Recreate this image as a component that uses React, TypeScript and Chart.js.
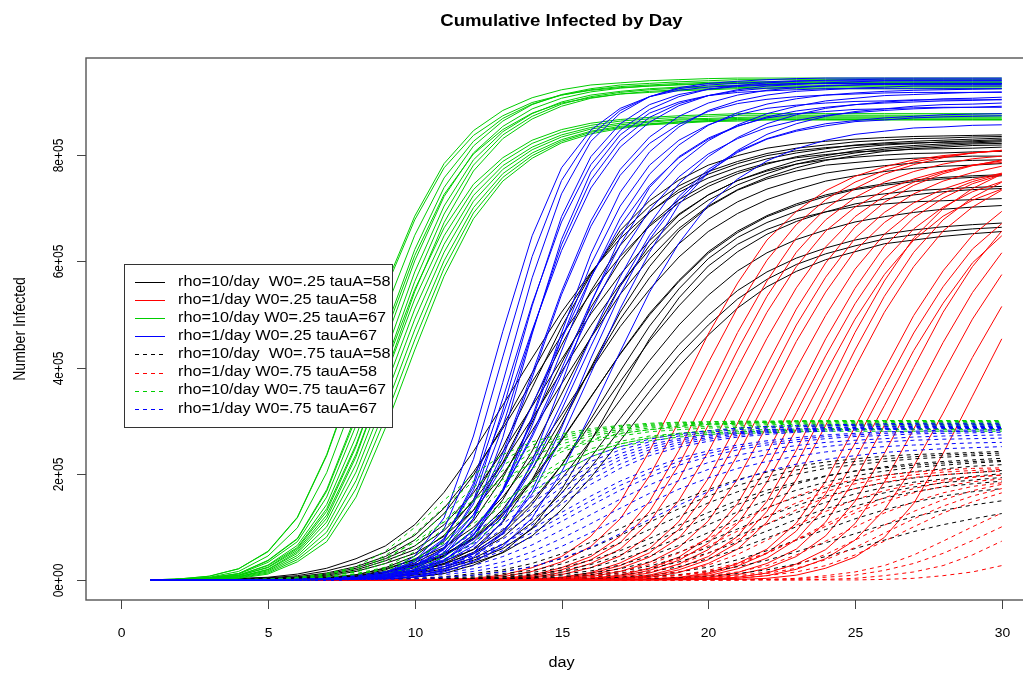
import React, { useEffect, useRef } from "react";
import { Chart, registerables } from "chart.js";

Chart.register(...registerables);

// ---------- data (values in thousands of infected) ----------
const days = [1, 2, 3, 4, 5, 6, 7, 8, 9, 10, 11, 12, 13, 14, 15, 16, 17, 18, 19, 20, 21, 22, 23, 24, 25, 26, 27, 28, 29, 30];
const xTicks = [0, 5, 10, 15, 20, 25, 30];
const xTickLabels = ["0", "5", "10", "15", "20", "25", "30"];
const yTicks = [0, 200, 400, 600, 800];
const yTickLabels = ["0e+00", "2e+05", "4e+05", "6e+05", "8e+05"];
const legendLabels = [
  "rho=10/day  W0=.25 tauA=58",
  "rho=1/day W0=.25 tauA=58",
  "rho=10/day W0=.25 tauA=67",
  "rho=1/day W0=.25 tauA=67",
  "rho=10/day  W0=.75 tauA=58",
  "rho=1/day W0=.75 tauA=58",
  "rho=10/day W0=.75 tauA=67",
  "rho=1/day W0=.75 tauA=67",
];

// rho=10/day W0=.25 tauA=58 (black, solid)
const blackSolid = [
  [0, 1, 1, 3, 5, 11, 22, 40, 64, 104, 165, 242, 329, 418, 504, 579, 643, 693, 730, 757, 777, 793, 804, 812, 819, 823, 826, 828, 830, 832],
  [0, 1, 1, 2, 3, 6, 13, 25, 44, 75, 125, 197, 290, 390, 490, 577, 651, 704, 742, 769, 788, 803, 813, 819, 825, 828, 831, 832, 834, 835],
  [0, 1, 1, 2, 4, 8, 17, 31, 52, 84, 135, 203, 285, 373, 460, 540, 609, 666, 710, 741, 765, 783, 797, 806, 814, 819, 822, 825, 827, 829],
  [0, 0, 0, 0, 1, 1, 3, 9, 23, 45, 84, 151, 250, 362, 476, 575, 658, 714, 753, 781, 799, 813, 821, 826, 830, 833, 835, 836, 837, 838],
  [0, 0, 0, 0, 1, 1, 3, 7, 19, 39, 72, 131, 221, 330, 442, 544, 630, 692, 735, 764, 784, 799, 808, 814, 818, 821, 823, 824, 825, 827],
  [0, 0, 1, 1, 2, 5, 11, 22, 40, 64, 104, 164, 241, 327, 415, 501, 575, 639, 689, 725, 752, 772, 789, 799, 808, 814, 818, 821, 823, 825],
  [0, 0, 1, 1, 2, 4, 9, 19, 36, 57, 93, 148, 220, 304, 392, 479, 557, 622, 676, 715, 744, 765, 783, 795, 804, 811, 815, 818, 821, 822],
  [0, 0, 0, 0, 0, 1, 2, 5, 14, 32, 59, 111, 192, 297, 408, 513, 601, 669, 716, 747, 769, 785, 795, 801, 806, 808, 811, 812, 813, 815],
  [0, 0, 1, 1, 2, 3, 7, 16, 31, 50, 82, 131, 198, 281, 369, 456, 538, 605, 662, 704, 735, 758, 776, 790, 799, 807, 812, 815, 818, 819],
  [0, 0, 0, 0, 0, 1, 2, 4, 10, 23, 45, 85, 151, 243, 350, 457, 553, 630, 687, 725, 752, 770, 783, 791, 796, 800, 803, 804, 806, 807],
  [0, 0, 0, 0, 0, 0, 1, 2, 5, 13, 31, 58, 109, 189, 291, 400, 504, 590, 657, 702, 734, 755, 770, 781, 786, 791, 794, 796, 798, 798],
  [0, 0, 0, 1, 1, 1, 3, 6, 13, 26, 46, 79, 133, 209, 301, 398, 491, 569, 633, 679, 712, 736, 753, 766, 774, 780, 785, 788, 790, 791],
  [0, 0, 0, 1, 1, 2, 5, 10, 21, 38, 61, 99, 156, 229, 311, 395, 477, 547, 608, 656, 690, 716, 735, 751, 761, 769, 775, 779, 781, 784],
  [0, 0, 0, 1, 1, 2, 4, 7, 16, 29, 49, 78, 125, 189, 264, 345, 425, 499, 562, 615, 654, 684, 705, 722, 735, 743, 750, 755, 758, 761],
  [0, 0, 0, 1, 1, 2, 3, 7, 15, 28, 46, 76, 122, 185, 262, 344, 426, 502, 564, 618, 657, 686, 708, 725, 737, 746, 753, 758, 761, 763],
  [0, 0, 0, 1, 1, 1, 2, 4, 8, 17, 29, 52, 87, 142, 216, 303, 393, 478, 548, 605, 645, 673, 694, 709, 720, 727, 733, 736, 739, 741],
  [0, 0, 0, 0, 1, 1, 2, 4, 10, 19, 36, 57, 93, 148, 216, 294, 373, 450, 516, 574, 618, 651, 675, 693, 708, 717, 725, 731, 735, 737],
  [0, 0, 0, 0, 0, 0, 0, 1, 1, 5, 12, 28, 52, 98, 170, 262, 360, 454, 531, 591, 632, 660, 680, 693, 703, 708, 712, 714, 716, 718],
  [0, 0, 0, 0, 1, 1, 2, 4, 8, 16, 31, 49, 80, 128, 190, 263, 339, 413, 480, 536, 582, 616, 641, 659, 674, 684, 692, 698, 702, 705],
  [0, 0, 0, 0, 1, 1, 1, 3, 6, 13, 25, 41, 67, 108, 163, 231, 304, 376, 443, 498, 545, 580, 606, 625, 640, 651, 659, 665, 669, 672],
  [0, 0, 0, 0, 1, 1, 1, 3, 5, 11, 21, 37, 59, 96, 148, 212, 283, 355, 423, 480, 529, 566, 594, 614, 629, 642, 650, 656, 661, 664],
  [0, 0, 0, 0, 0, 1, 1, 2, 4, 9, 17, 32, 51, 83, 132, 193, 262, 333, 402, 461, 512, 552, 581, 603, 618, 633, 640, 647, 652, 656],
];

// rho=1/day W0=.25 tauA=58 (red, solid)
const redSolid = [
  [0, 0, 0, 0, 0, 0, 0, 0, 0, 1, 1, 3, 9, 23, 44, 82, 147, 243, 352, 463, 559, 640, 694, 733, 760, 778, 791, 799, 804, 808],
  [0, 0, 0, 0, 0, 0, 0, 0, 0, 1, 1, 2, 6, 16, 34, 63, 115, 196, 298, 409, 513, 602, 669, 716, 749, 771, 787, 797, 804, 809],
  [0, 0, 0, 0, 0, 0, 0, 0, 0, 0, 1, 1, 3, 9, 23, 44, 82, 148, 244, 354, 466, 563, 644, 699, 737, 764, 782, 795, 804, 809],
  [0, 0, 0, 0, 0, 0, 0, 0, 0, 0, 1, 1, 3, 7, 19, 38, 70, 129, 217, 323, 433, 534, 617, 678, 720, 749, 769, 783, 793, 798],
  [0, 0, 0, 0, 0, 0, 0, 0, 0, 0, 0, 1, 2, 5, 14, 31, 58, 109, 189, 291, 400, 504, 590, 657, 702, 734, 755, 770, 781, 786],
  [0, 0, 0, 0, 0, 0, 0, 0, 0, 0, 0, 1, 2, 4, 10, 23, 45, 84, 150, 241, 348, 455, 550, 627, 684, 723, 749, 768, 781, 789],
  [0, 0, 0, 0, 0, 0, 0, 0, 0, 0, 0, 0, 1, 2, 5, 14, 32, 59, 110, 191, 295, 405, 510, 597, 665, 711, 743, 765, 780, 791],
  [0, 0, 0, 0, 0, 0, 0, 0, 0, 0, 0, 0, 1, 2, 4, 12, 27, 51, 95, 167, 265, 373, 480, 570, 643, 692, 727, 751, 767, 779],
  [0, 0, 0, 0, 0, 0, 0, 0, 0, 0, 0, 0, 1, 1, 3, 9, 22, 43, 79, 142, 235, 341, 449, 542, 620, 673, 710, 736, 754, 766],
  [0, 0, 0, 0, 0, 0, 0, 0, 0, 0, 0, 0, 1, 1, 2, 6, 16, 33, 61, 111, 190, 290, 398, 498, 585, 651, 696, 728, 750, 765],
  [0, 0, 0, 0, 0, 0, 0, 0, 0, 0, 0, 0, 0, 1, 1, 3, 9, 22, 43, 80, 144, 238, 346, 454, 549, 628, 682, 719, 746, 763],
  [0, 0, 0, 0, 0, 0, 0, 0, 0, 0, 0, 0, 0, 1, 1, 3, 7, 18, 37, 69, 125, 211, 315, 422, 520, 602, 661, 702, 731, 750],
  [0, 0, 0, 0, 0, 0, 0, 0, 0, 0, 0, 0, 0, 0, 1, 2, 5, 13, 30, 57, 106, 184, 284, 390, 491, 575, 640, 685, 715, 736],
  [0, 0, 0, 0, 0, 0, 0, 0, 0, 0, 0, 0, 0, 0, 1, 1, 3, 9, 23, 44, 82, 148, 244, 354, 466, 563, 644, 699, 737, 764],
  [0, 0, 0, 0, 0, 0, 0, 0, 0, 0, 0, 0, 0, 0, 1, 1, 3, 7, 19, 38, 70, 129, 217, 323, 433, 534, 617, 678, 720, 749],
  [0, 0, 0, 0, 0, 0, 0, 0, 0, 0, 0, 0, 0, 0, 0, 1, 2, 5, 14, 31, 58, 109, 189, 291, 400, 504, 590, 657, 702, 734],
  [0, 0, 0, 0, 0, 0, 0, 0, 0, 0, 0, 0, 0, 0, 0, 0, 1, 2, 5, 13, 31, 58, 107, 186, 288, 395, 498, 582, 649, 694],
  [0, 0, 0, 0, 0, 0, 0, 0, 0, 0, 0, 0, 0, 0, 0, 0, 1, 2, 4, 11, 26, 50, 92, 162, 257, 362, 465, 552, 623, 671],
  [0, 0, 0, 0, 0, 0, 0, 0, 0, 0, 0, 0, 0, 0, 0, 0, 1, 1, 3, 8, 21, 41, 76, 137, 226, 328, 432, 521, 597, 648],
  [0, 0, 0, 0, 0, 0, 0, 0, 0, 0, 0, 0, 0, 0, 0, 0, 0, 1, 2, 5, 14, 31, 58, 109, 189, 291, 400, 504, 590, 657],
  [0, 0, 0, 0, 0, 0, 0, 0, 0, 0, 0, 0, 0, 0, 0, 0, 0, 1, 2, 4, 10, 22, 44, 83, 148, 238, 342, 447, 541, 616],
  [0, 0, 0, 0, 0, 0, 0, 0, 0, 0, 0, 0, 0, 0, 0, 0, 0, 0, 1, 2, 5, 13, 30, 57, 106, 184, 284, 390, 491, 575],
  [0, 0, 0, 0, 0, 0, 0, 0, 0, 0, 0, 0, 0, 0, 0, 0, 0, 0, 1, 2, 3, 8, 20, 40, 75, 132, 214, 314, 419, 515],
  [0, 0, 0, 0, 0, 0, 0, 0, 0, 0, 0, 0, 0, 0, 0, 0, 0, 0, 0, 1, 1, 3, 9, 22, 43, 80, 144, 238, 346, 454],
];

// rho=10/day W0=.25 tauA=67 (green, solid)
const greenSolid = [
  [0, 2, 7, 21, 54, 118, 236, 392, 553, 685, 784, 846, 884, 908, 923, 932, 936, 940, 942, 944, 945, 945, 945, 945, 945, 945, 945, 945, 945, 945],
  [0, 2, 7, 21, 53, 117, 234, 388, 547, 678, 776, 837, 874, 899, 913, 922, 927, 930, 932, 934, 935, 935, 935, 935, 935, 935, 935, 935, 935, 935],
  [0, 1, 5, 16, 45, 98, 202, 349, 508, 649, 757, 826, 869, 896, 913, 923, 929, 932, 935, 937, 938, 938, 938, 938, 938, 938, 938, 938, 938, 938],
  [0, 1, 4, 12, 37, 78, 170, 311, 471, 622, 739, 817, 864, 895, 914, 925, 932, 935, 938, 940, 942, 942, 942, 942, 942, 942, 942, 942, 942, 942],
  [0, 1, 4, 11, 33, 72, 156, 291, 449, 601, 722, 804, 854, 887, 907, 919, 926, 930, 933, 935, 937, 937, 937, 937, 937, 937, 937, 937, 937, 937],
  [0, 1, 4, 12, 36, 77, 167, 305, 463, 611, 726, 802, 848, 879, 898, 908, 915, 918, 921, 923, 925, 925, 925, 925, 925, 925, 925, 925, 925, 925],
  [0, 1, 3, 9, 28, 65, 142, 270, 426, 580, 704, 791, 844, 878, 900, 913, 920, 925, 928, 930, 932, 932, 932, 932, 932, 932, 932, 932, 932, 932],
  [0, 1, 3, 8, 24, 59, 129, 251, 406, 562, 689, 781, 838, 873, 896, 910, 918, 923, 926, 928, 930, 930, 930, 930, 930, 930, 930, 930, 930, 930],
  [0, 1, 2, 6, 20, 53, 116, 232, 385, 543, 673, 770, 831, 868, 892, 907, 915, 920, 923, 925, 927, 928, 928, 928, 928, 928, 928, 928, 928, 928],
  [0, 1, 3, 9, 27, 61, 134, 255, 402, 547, 663, 745, 795, 828, 848, 860, 867, 871, 874, 876, 878, 878, 878, 878, 878, 878, 878, 878, 878, 878],
  [0, 1, 3, 8, 23, 56, 122, 237, 382, 529, 648, 735, 788, 822, 843, 856, 864, 868, 871, 873, 875, 875, 875, 875, 875, 875, 875, 875, 875, 875],
  [0, 1, 2, 6, 19, 50, 109, 218, 362, 510, 632, 724, 780, 815, 838, 852, 860, 864, 868, 869, 871, 872, 872, 872, 872, 872, 872, 872, 872, 872],
  [0, 1, 2, 6, 17, 46, 100, 203, 343, 491, 617, 713, 773, 810, 834, 849, 857, 862, 866, 867, 869, 870, 870, 870, 870, 870, 870, 870, 870, 870],
  [0, 0, 1, 5, 15, 42, 90, 187, 323, 471, 601, 701, 765, 804, 829, 845, 854, 859, 863, 865, 867, 868, 868, 868, 868, 868, 868, 868, 868, 868],
  [0, 0, 1, 4, 13, 38, 81, 172, 305, 452, 587, 691, 758, 799, 826, 843, 852, 858, 862, 864, 866, 867, 867, 867, 867, 867, 867, 867, 867, 867],
  [0, 0, 1, 3, 11, 34, 72, 156, 286, 433, 572, 680, 751, 794, 823, 840, 850, 857, 860, 863, 864, 866, 866, 866, 866, 866, 866, 866, 866, 866],
];

// rho=1/day W0=.25 tauA=67 (blue, solid)
const blueSolid = [
  [0, 0, 0, 0, 0, 0, 1, 3, 12, 45, 117, 271, 468, 648, 776, 847, 888, 910, 922, 928, 931, 933, 935, 935, 935, 935, 935, 935, 935, 935],
  [0, 0, 0, 0, 0, 0, 1, 2, 9, 35, 96, 227, 420, 609, 752, 837, 884, 910, 925, 932, 935, 938, 940, 940, 940, 940, 940, 940, 940, 940],
  [0, 0, 0, 0, 0, 0, 0, 1, 6, 25, 74, 182, 372, 569, 727, 826, 879, 910, 927, 935, 939, 942, 944, 945, 945, 945, 945, 945, 945, 945],
  [0, 0, 0, 0, 0, 0, 1, 3, 9, 31, 76, 176, 341, 520, 674, 782, 847, 886, 910, 924, 931, 936, 939, 941, 942, 943, 943, 943, 943, 943],
  [0, 0, 0, 0, 0, 0, 0, 1, 5, 19, 59, 149, 320, 516, 684, 797, 859, 895, 914, 924, 929, 932, 934, 935, 935, 935, 935, 935, 935, 935],
  [0, 0, 0, 0, 0, 0, 0, 1, 3, 12, 44, 116, 268, 463, 641, 768, 838, 879, 900, 912, 918, 921, 923, 925, 925, 925, 925, 925, 925, 925],
  [0, 0, 0, 0, 0, 0, 1, 3, 8, 25, 61, 143, 289, 467, 631, 753, 827, 871, 897, 912, 921, 926, 928, 931, 932, 933, 933, 933, 933, 933],
  [0, 0, 0, 0, 0, 0, 1, 4, 12, 37, 78, 169, 310, 470, 620, 738, 815, 862, 893, 912, 923, 930, 933, 936, 938, 940, 940, 940, 940, 940],
  [0, 0, 0, 0, 0, 0, 1, 3, 8, 25, 57, 123, 239, 389, 543, 676, 773, 834, 873, 898, 913, 922, 927, 930, 932, 934, 935, 935, 935, 935],
  [0, 0, 0, 0, 0, 0, 1, 2, 6, 20, 52, 115, 230, 381, 537, 666, 762, 822, 858, 882, 897, 905, 910, 913, 915, 917, 918, 918, 918, 918],
  [0, 0, 0, 0, 0, 0, 1, 2, 4, 13, 36, 83, 171, 302, 453, 594, 704, 781, 828, 857, 876, 888, 894, 898, 901, 902, 904, 904, 904, 904],
  [0, 0, 0, 0, 0, 0, 0, 1, 4, 12, 36, 77, 167, 307, 465, 614, 730, 806, 853, 884, 902, 913, 920, 923, 926, 928, 930, 930, 930, 930],
  [0, 0, 0, 0, 0, 1, 1, 3, 7, 19, 43, 85, 167, 291, 431, 569, 681, 764, 819, 856, 880, 896, 906, 913, 917, 920, 922, 923, 924, 925],
  [0, 0, 0, 0, 0, 1, 2, 5, 15, 35, 66, 123, 214, 329, 453, 570, 667, 743, 795, 830, 854, 872, 883, 890, 895, 898, 900, 902, 903, 905],
  [0, 0, 0, 0, 0, 0, 0, 1, 2, 6, 20, 51, 111, 223, 369, 521, 645, 739, 797, 832, 855, 870, 878, 882, 886, 887, 889, 890, 890, 890],
  [0, 0, 0, 0, 0, 1, 1, 4, 10, 26, 50, 92, 166, 274, 397, 523, 631, 722, 784, 827, 857, 878, 892, 902, 907, 912, 914, 916, 918, 919],
  [0, 0, 0, 0, 0, 1, 2, 4, 10, 25, 50, 94, 167, 269, 387, 505, 611, 696, 759, 802, 831, 852, 865, 875, 880, 884, 887, 889, 890, 892],
  [0, 0, 0, 0, 0, 1, 1, 3, 7, 18, 38, 71, 128, 218, 333, 456, 571, 670, 746, 797, 833, 859, 876, 888, 895, 900, 903, 906, 907, 909],
  [0, 0, 0, 0, 0, 0, 1, 2, 5, 15, 34, 64, 120, 208, 320, 440, 554, 649, 722, 773, 807, 831, 847, 859, 865, 870, 873, 876, 877, 878],
  [0, 0, 0, 0, 0, 0, 0, 1, 2, 6, 18, 43, 87, 170, 286, 417, 538, 641, 716, 769, 805, 830, 845, 855, 863, 866, 870, 872, 873, 874],
  [0, 0, 0, 0, 0, 0, 1, 1, 4, 10, 25, 49, 90, 162, 268, 389, 511, 617, 707, 767, 809, 839, 859, 873, 882, 887, 892, 895, 896, 898],
  [0, 0, 0, 0, 0, 0, 0, 1, 2, 5, 15, 34, 63, 117, 203, 313, 430, 542, 634, 706, 755, 789, 812, 828, 839, 845, 851, 853, 856, 857],
];

// rho=10/day W0=.75 tauA=58 (black, dashed)
const blackDashed = [
  [0, 0, 0, 0, 0, 0, 0, 1, 1, 3, 6, 12, 19, 31, 49, 71, 97, 123, 148, 170, 189, 203, 214, 222, 228, 233, 236, 238, 240, 242],
  [0, 0, 0, 0, 0, 0, 0, 1, 1, 2, 5, 9, 16, 25, 40, 60, 84, 109, 134, 158, 178, 194, 207, 216, 223, 228, 232, 235, 237, 239],
  [0, 0, 0, 0, 0, 0, 0, 0, 1, 1, 3, 6, 12, 18, 30, 48, 70, 95, 120, 145, 166, 185, 199, 210, 217, 223, 228, 231, 234, 235],
  [0, 0, 0, 0, 0, 0, 0, 0, 0, 1, 2, 4, 9, 14, 23, 37, 55, 78, 103, 127, 150, 169, 184, 196, 205, 211, 216, 220, 223, 225],
  [0, 0, 0, 0, 0, 0, 0, 0, 0, 1, 1, 3, 6, 11, 18, 29, 47, 68, 93, 118, 142, 163, 181, 195, 205, 213, 219, 223, 226, 229],
  [0, 0, 0, 0, 0, 0, 0, 0, 0, 1, 1, 2, 5, 9, 15, 23, 38, 57, 79, 104, 128, 150, 169, 184, 196, 205, 212, 216, 220, 223],
  [0, 0, 0, 0, 0, 0, 0, 0, 0, 0, 1, 1, 3, 6, 11, 17, 28, 45, 65, 89, 113, 136, 156, 173, 187, 197, 204, 209, 214, 217],
  [0, 0, 0, 0, 0, 0, 0, 0, 0, 0, 0, 1, 2, 4, 8, 13, 21, 34, 52, 73, 96, 119, 140, 158, 172, 183, 192, 198, 202, 206],
  [0, 0, 0, 0, 0, 0, 0, 0, 0, 0, 0, 1, 1, 3, 5, 10, 16, 26, 42, 61, 83, 105, 127, 146, 162, 174, 184, 190, 195, 200],
  [0, 0, 0, 0, 0, 0, 0, 0, 0, 0, 0, 1, 1, 2, 4, 8, 13, 21, 34, 51, 71, 92, 114, 134, 151, 164, 175, 183, 188, 193],
  [0, 0, 0, 0, 0, 0, 0, 0, 0, 0, 0, 0, 1, 1, 3, 5, 10, 15, 25, 40, 58, 79, 100, 121, 139, 154, 166, 175, 181, 186],
  [0, 0, 0, 0, 0, 0, 0, 0, 0, 0, 0, 0, 0, 1, 1, 2, 5, 9, 15, 24, 38, 55, 75, 95, 115, 132, 146, 158, 166, 172],
  [0, 0, 0, 0, 0, 0, 0, 0, 0, 0, 0, 0, 0, 1, 1, 1, 3, 6, 10, 16, 25, 37, 53, 70, 87, 104, 119, 131, 141, 149],
  [0, 0, 0, 0, 0, 0, 0, 0, 0, 0, 0, 0, 0, 0, 0, 0, 1, 2, 4, 7, 12, 19, 30, 44, 59, 75, 91, 104, 115, 125],
];

// rho=1/day W0=.75 tauA=58 (red, dashed)
const redDashed = [
  [0, 0, 0, 0, 0, 0, 0, 0, 0, 0, 0, 0, 0, 1, 4, 8, 16, 29, 51, 78, 108, 135, 158, 177, 189, 197, 203, 207, 210, 211],
  [0, 0, 0, 0, 0, 0, 0, 0, 0, 0, 0, 0, 0, 1, 3, 6, 12, 22, 40, 64, 92, 120, 145, 166, 181, 191, 198, 203, 206, 208],
  [0, 0, 0, 0, 0, 0, 0, 0, 0, 0, 0, 0, 0, 0, 1, 4, 8, 15, 29, 50, 76, 105, 132, 155, 172, 184, 193, 198, 202, 205],
  [0, 0, 0, 0, 0, 0, 0, 0, 0, 0, 0, 0, 0, 0, 0, 1, 3, 8, 15, 28, 48, 75, 103, 129, 151, 168, 180, 188, 194, 197],
  [0, 0, 0, 0, 0, 0, 0, 0, 0, 0, 0, 0, 0, 0, 0, 1, 2, 5, 9, 18, 32, 51, 75, 101, 126, 147, 164, 176, 185, 190],
  [0, 0, 0, 0, 0, 0, 0, 0, 0, 0, 0, 0, 0, 0, 0, 0, 1, 4, 8, 15, 29, 50, 76, 105, 132, 155, 172, 184, 193, 198],
  [0, 0, 0, 0, 0, 0, 0, 0, 0, 0, 0, 0, 0, 0, 0, 0, 0, 1, 3, 8, 15, 27, 47, 73, 100, 126, 147, 164, 176, 183],
  [0, 0, 0, 0, 0, 0, 0, 0, 0, 0, 0, 0, 0, 0, 0, 0, 0, 0, 1, 3, 8, 15, 28, 48, 75, 103, 129, 151, 168, 180],
  [0, 0, 0, 0, 0, 0, 0, 0, 0, 0, 0, 0, 0, 0, 0, 0, 0, 0, 1, 2, 6, 12, 22, 38, 61, 88, 115, 139, 158, 172],
  [0, 0, 0, 0, 0, 0, 0, 0, 0, 0, 0, 0, 0, 0, 0, 0, 0, 0, 0, 1, 3, 8, 15, 27, 47, 73, 100, 126, 147, 164],
  [0, 0, 0, 0, 0, 0, 0, 0, 0, 0, 0, 0, 0, 0, 0, 0, 0, 0, 0, 0, 0, 1, 3, 8, 15, 27, 47, 73, 100, 126],
  [0, 0, 0, 0, 0, 0, 0, 0, 0, 0, 0, 0, 0, 0, 0, 0, 0, 0, 0, 0, 0, 1, 2, 5, 9, 18, 31, 50, 74, 100],
  [0, 0, 0, 0, 0, 0, 0, 0, 0, 0, 0, 0, 0, 0, 0, 0, 0, 0, 0, 0, 0, 0, 0, 1, 3, 8, 15, 27, 47, 73],
  [0, 0, 0, 0, 0, 0, 0, 0, 0, 0, 0, 0, 0, 0, 0, 0, 0, 0, 0, 0, 0, 0, 0, 0, 0, 1, 3, 8, 15, 27],
];

// rho=10/day W0=.75 tauA=67 (green, dashed)
const greenDashed = [
  [0, 0, 0, 0, 1, 4, 12, 25, 54, 99, 150, 198, 236, 260, 275, 285, 291, 295, 297, 298, 299, 299, 300, 300, 300, 300, 300, 300, 300, 300],
  [0, 0, 0, 0, 1, 3, 10, 21, 46, 87, 137, 186, 226, 254, 271, 282, 289, 293, 296, 297, 298, 298, 299, 299, 299, 299, 299, 299, 299, 299],
  [0, 0, 0, 0, 1, 2, 7, 17, 37, 75, 124, 174, 216, 247, 267, 279, 286, 291, 294, 295, 297, 297, 298, 298, 298, 298, 298, 298, 298, 298],
  [0, 0, 0, 0, 1, 2, 6, 15, 31, 64, 111, 161, 206, 240, 262, 275, 283, 289, 292, 294, 295, 296, 297, 297, 297, 297, 297, 297, 297, 297],
  [0, 0, 0, 0, 0, 1, 4, 12, 24, 53, 97, 148, 195, 232, 256, 271, 280, 286, 290, 292, 293, 294, 295, 295, 295, 295, 295, 295, 295, 295],
  [0, 0, 0, 1, 2, 5, 12, 22, 41, 71, 109, 150, 189, 221, 246, 263, 275, 283, 289, 293, 295, 297, 298, 299, 300, 300, 300, 300, 300, 300],
  [0, 0, 0, 0, 0, 1, 3, 9, 21, 45, 85, 134, 183, 221, 249, 266, 276, 283, 287, 289, 290, 292, 293, 293, 293, 293, 293, 293, 293, 293],
  [0, 0, 0, 0, 0, 1, 2, 6, 17, 36, 73, 120, 170, 210, 241, 260, 271, 279, 283, 286, 287, 289, 290, 290, 290, 290, 290, 290, 290, 290],
  [0, 0, 0, 0, 0, 0, 1, 4, 11, 24, 51, 94, 143, 188, 224, 247, 261, 271, 276, 280, 282, 283, 284, 285, 285, 285, 285, 285, 285, 285],
  [0, 0, 0, 0, 1, 2, 5, 11, 21, 40, 69, 106, 146, 184, 215, 240, 256, 268, 276, 281, 285, 287, 289, 290, 291, 292, 292, 292, 292, 292],
  [0, 0, 0, 0, 0, 0, 1, 3, 9, 20, 43, 82, 130, 176, 214, 240, 256, 267, 273, 277, 279, 280, 282, 283, 283, 283, 283, 283, 283, 283],
  [0, 0, 0, 0, 0, 0, 1, 2, 6, 16, 35, 70, 116, 164, 203, 232, 251, 262, 269, 274, 276, 277, 279, 280, 280, 280, 280, 280, 280, 280],
];

// rho=1/day W0=.75 tauA=67 (blue, dashed)
const blueDashed = [
  [0, 0, 0, 0, 0, 1, 3, 8, 16, 30, 53, 88, 127, 168, 202, 232, 251, 265, 275, 281, 286, 289, 291, 292, 293, 294, 295, 295, 295, 295],
  [0, 0, 0, 0, 0, 1, 3, 7, 14, 26, 46, 78, 117, 157, 193, 223, 245, 260, 271, 278, 283, 286, 288, 290, 291, 292, 293, 293, 293, 293],
  [0, 0, 0, 0, 0, 1, 2, 5, 11, 21, 39, 68, 106, 145, 183, 214, 238, 255, 266, 274, 279, 283, 285, 287, 288, 289, 290, 290, 290, 290],
  [0, 0, 0, 0, 0, 1, 2, 4, 10, 19, 34, 60, 96, 135, 174, 206, 232, 250, 263, 271, 277, 281, 284, 286, 287, 288, 289, 289, 289, 289],
  [0, 0, 0, 0, 0, 0, 1, 3, 8, 16, 29, 52, 86, 124, 164, 198, 226, 245, 259, 268, 275, 279, 282, 284, 285, 286, 287, 288, 288, 288],
  [0, 0, 0, 0, 0, 0, 1, 3, 7, 14, 25, 46, 77, 114, 154, 189, 218, 240, 255, 265, 272, 277, 280, 282, 284, 285, 286, 287, 287, 287],
  [0, 0, 0, 0, 0, 0, 1, 2, 5, 11, 21, 39, 67, 104, 143, 180, 210, 234, 250, 261, 269, 274, 278, 280, 282, 283, 284, 285, 285, 285],
  [0, 0, 0, 0, 1, 1, 3, 5, 11, 17, 28, 45, 68, 97, 127, 158, 186, 209, 229, 243, 254, 262, 268, 273, 276, 279, 280, 282, 282, 283],
  [0, 0, 0, 0, 1, 1, 3, 5, 9, 15, 25, 40, 62, 89, 119, 149, 178, 202, 223, 238, 250, 258, 264, 270, 273, 276, 278, 279, 280, 281],
  [0, 0, 0, 0, 0, 1, 2, 4, 7, 13, 22, 35, 55, 81, 110, 140, 169, 194, 216, 232, 245, 254, 260, 266, 270, 272, 275, 276, 277, 278],
  [0, 0, 0, 0, 0, 1, 1, 2, 5, 10, 17, 27, 44, 66, 94, 123, 152, 179, 202, 221, 235, 245, 253, 259, 263, 266, 269, 271, 272, 273],
  [0, 0, 0, 0, 0, 0, 1, 2, 4, 7, 13, 21, 34, 53, 78, 106, 135, 163, 187, 208, 224, 236, 245, 251, 257, 260, 263, 265, 266, 267],
  [0, 0, 0, 0, 0, 0, 1, 1, 2, 5, 10, 16, 26, 42, 63, 89, 117, 145, 171, 192, 210, 223, 233, 241, 247, 251, 254, 256, 258, 259],
  [0, 0, 0, 0, 0, 0, 0, 1, 1, 2, 5, 9, 15, 25, 41, 61, 87, 114, 141, 166, 187, 205, 218, 227, 234, 240, 244, 247, 249, 251],
];

// ---------- styling ----------
const BLACK = "#000000";
const RED = "#FF0000";
const GREEN = "#00CD00";
const BLUE = "#0000FF";
const SOLID: number[] = [];
const DASH = [4, 4];
const FONT = '"Liberation Sans", Arial, Helvetica, sans-serif';
const SX = 1.16; // horizontal stretch of the reference's lettering

// drawn bottom to top
const groups = [
  { curves: blackSolid, color: BLACK, dash: SOLID },
  { curves: redSolid, color: RED, dash: SOLID },
  { curves: greenSolid, color: GREEN, dash: SOLID },
  { curves: blueSolid, color: BLUE, dash: SOLID },
  { curves: blackDashed, color: BLACK, dash: DASH },
  { curves: redDashed, color: RED, dash: DASH },
  { curves: greenDashed, color: GREEN, dash: DASH },
  { curves: blueDashed, color: BLUE, dash: DASH },
];
const legendStyles = [
  { color: BLACK, dash: SOLID },
  { color: RED, dash: SOLID },
  { color: GREEN, dash: SOLID },
  { color: BLUE, dash: SOLID },
  { color: BLACK, dash: DASH },
  { color: RED, dash: DASH },
  { color: GREEN, dash: DASH },
  { color: BLUE, dash: DASH },
];

const CANVAS_W = 1060;
const CANVAS_H = 676;

function drawText(
  ctx: CanvasRenderingContext2D,
  s: string,
  x: number,
  y: number,
  font: string,
  align: CanvasTextAlign,
  rotate = false
) {
  ctx.save();
  ctx.translate(x, y);
  ctx.scale(SX, 1);
  if (rotate) ctx.rotate(-Math.PI / 2);
  ctx.font = font;
  ctx.fillStyle = "#000";
  ctx.textAlign = align;
  ctx.textBaseline = "middle";
  ctx.fillText(s, 0, 0);
  ctx.restore();
}

const decorPlugin = {
  id: "rDecor",
  afterDraw(chart: any) {
    const ctx: CanvasRenderingContext2D = chart.ctx;
    const { left, top, right, bottom } = chart.chartArea;
    const xs = chart.scales.x;
    const ys = chart.scales.y;
    ctx.save();
    // box
    ctx.strokeStyle = "#555";
    ctx.lineWidth = 1.4;
    ctx.setLineDash([]);
    ctx.strokeRect(left, top, right - left, bottom - top);
    // x ticks
    ctx.lineWidth = 1;
    ctx.strokeStyle = "#444";
    xTicks.forEach((t, i) => {
      const px = Math.round(xs.getPixelForValue(t)) + 0.5;
      ctx.beginPath();
      ctx.moveTo(px, bottom);
      ctx.lineTo(px, bottom + 9);
      ctx.stroke();
      drawText(ctx, xTickLabels[i], px, 634, `12px ${FONT}`, "center");
    });
    // y ticks
    yTicks.forEach((t, i) => {
      const py = Math.round(ys.getPixelForValue(t)) + 0.5;
      ctx.beginPath();
      ctx.moveTo(left, py);
      ctx.lineTo(left - 9, py);
      ctx.stroke();
      drawText(ctx, yTickLabels[i], 59, py, `12px ${FONT}`, "center", true);
    });
    // titles
    const cx = (left + right) / 2;
    drawText(ctx, "Cumulative Infected by Day", cx, 22, `bold 16px ${FONT}`, "center");
    drawText(ctx, "day", cx, 663, `14px ${FONT}`, "center");
    drawText(ctx, "Number Infected", 21, (top + bottom) / 2, `14px ${FONT}`, "center", true);
    // legend
    const lx0 = 124, ly0 = 264, lx1 = 392, ly1 = 427;
    ctx.fillStyle = "#fff";
    ctx.fillRect(lx0, ly0, lx1 - lx0, ly1 - ly0);
    ctx.strokeStyle = "#333";
    ctx.lineWidth = 1;
    ctx.strokeRect(lx0 + 0.5, ly0 + 0.5, lx1 - lx0, ly1 - ly0);
    legendLabels.forEach((lab, i) => {
      const y = 282 + i * 18.1;
      ctx.strokeStyle = legendStyles[i].color;
      ctx.setLineDash(legendStyles[i].dash);
      ctx.lineWidth = 1;
      ctx.beginPath();
      ctx.moveTo(135, Math.round(y) + 0.5);
      ctx.lineTo(165, Math.round(y) + 0.5);
      ctx.stroke();
      ctx.setLineDash([]);
      drawText(ctx, lab, 178, y, `14px ${FONT}`, "left");
    });
    ctx.restore();
  },
};

export default function App() {
  const ref = useRef<HTMLCanvasElement | null>(null);

  useEffect(() => {
    if (!ref.current) return;
    const datasets: any[] = [];
    groups.forEach((g) => {
      g.curves.forEach((curve) => {
        datasets.push({
          data: days.map((d, i) => ({ x: d, y: curve[i] })),
          borderColor: g.color,
          borderWidth: 1,
          borderDash: g.dash,
          pointRadius: 0,
          fill: false,
          tension: 0,
        });
      });
    });
    // Chart.js paints index 0 last (on top): reverse so later groups sit on top
    datasets.reverse();

    const chart = new Chart(ref.current, {
      type: "line",
      data: { datasets },
      options: {
        responsive: false,
        animation: false,
        devicePixelRatio: 1,
        events: [],
        layout: { padding: { left: 86, top: 58, right: CANVAS_W - 1037, bottom: CANVAS_H - 600 } },
        scales: {
          x: { type: "linear", min: -1.2, max: 31.2, display: false },
          y: { type: "linear", min: -37.8, max: 982.8, display: false },
        },
        plugins: {
          legend: { display: false },
          tooltip: { enabled: false },
          title: { display: false },
        },
      },
      plugins: [decorPlugin],
    });
    return () => chart.destroy();
  }, []);

  return (
    <div
      style={{
        position: "absolute",
        left: 0,
        top: 0,
        width: 1023,
        height: 676,
        overflow: "hidden",
        background: "#fff",
      }}
    >
      <canvas ref={ref} width={CANVAS_W} height={CANVAS_H} style={{ display: "block" }} />
    </div>
  );
}
